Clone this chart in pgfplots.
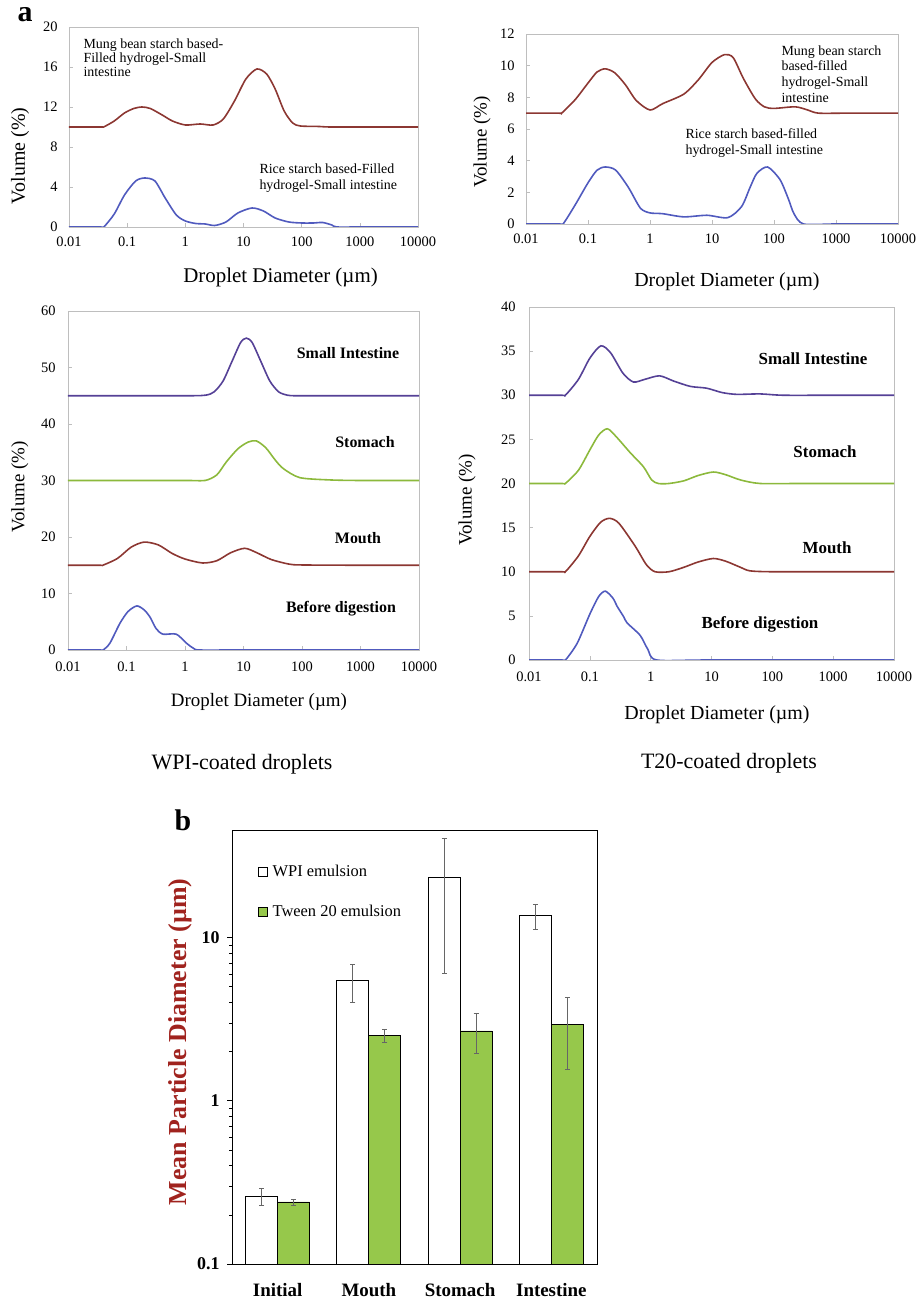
\documentclass[border=0pt]{standalone}
\usepackage{fontspec}
\setmainfont{Liberation Serif}
\usepackage{pgfplots}
\pgfplotsset{compat=1.18}

\definecolor{cbrown}{RGB}{140,55,50}
\definecolor{cblue}{RGB}{80,90,190}
\definecolor{cpurple}{RGB}{85,65,150}
\definecolor{cgreen}{RGB}{140,185,60}
\definecolor{bargreen}{RGB}{150,200,75}
\definecolor{labred}{RGB}{160,35,30}
\definecolor{framegray}{RGB}{190,190,190}
\newcommand\fs[2]{\fontsize{#1}{#2}\selectfont}
\tikzset{catlab/.style={font=\bfseries\fontsize{16}{18}\selectfont},
         catlabb/.style={font=\bfseries\fontsize{17}{19}\selectfont},
         dline/.style={line width=1.6bp, smooth, tension=0.45}}

\begin{document}
\begin{tikzpicture}
\path[use as bounding box] (0bp,0bp) rectangle (916bp,1300bp);

% ---------- Panel a1 ----------
\begin{axis}[scale only axis, anchor=south west, at={(69bp,1073bp)}, width=349bp, height=200bp,
  xmode=log, xmin=0.01, xmax=10000, ymin=0, ymax=20,
  xtick={0.01,0.1,1,10,100,1000,10000}, xticklabels={0.01,0.1,1,10,100,1000,10000},
  ytick={0,4,8,12,16,20},
  xminorticks=false, yminorticks=false, xtick pos=bottom, ytick pos=left,
  axis line style={framegray, line width=0.8bp}, tick style={framegray, line width=0.6bp},
  major tick length=4bp, tick align=inside,
  /pgf/number format/assume math mode=true,
  tick label style={font=\fs{14.5}{16}},
  xticklabel shift=6bp, yticklabel shift=8bp,
  xlabel={Droplet Diameter (µm)}, ylabel={Volume (\%)},
  xlabel style={at={(axis description cs:0.606,-0.25)}, anchor=center, font=\fs{21}{23}},
  ylabel style={at={(axis description cs:-0.140,0.355)}, anchor=center, font=\fs{20}{22}}]
\addplot[dline, cbrown, no markers] coordinates {(0.01,10) (0.035,10) (0.04,10.02) (0.06,10.6) (0.09,11.4) (0.13,11.85) (0.18,12.0) (0.25,11.85) (0.4,11.2) (0.6,10.6) (1.0,10.2) (1.8,10.3) (3.0,10.2) (4.5,10.8) (7,12.6) (11,14.8) (17,15.8) (25,15.3) (35,13.8) (50,11.6) (70,10.4) (95,10.1) (200,10.05) (300,10) (1000,10) (10000,10)};
\addplot[dline, cblue, no markers] coordinates {(0.01,0) (0.035,0) (0.04,0.02) (0.06,1.3) (0.09,3.2) (0.14,4.6) (0.2,4.9) (0.3,4.6) (0.45,2.9) (0.7,1.2) (1.0,0.6) (1.5,0.35) (2.2,0.3) (3.2,0.15) (5,0.5) (8,1.4) (14,1.9) (22,1.6) (35,0.9) (60,0.5) (100,0.4) (160,0.4) (230,0.45) (330,0.2) (400,0) (1000,0) (10000,0)};
\end{axis}

% ---------- Panel a2 ----------
\begin{axis}[scale only axis, anchor=south west, at={(526bp,1076bp)}, width=372bp, height=190bp,
  xmode=log, xmin=0.01, xmax=10000, ymin=0, ymax=12,
  xtick={0.01,0.1,1,10,100,1000,10000}, xticklabels={0.01,0.1,1,10,100,1000,10000},
  ytick={0,2,4,6,8,10,12},
  xminorticks=false, yminorticks=false, xtick pos=bottom, ytick pos=left,
  axis line style={framegray, line width=0.8bp}, tick style={framegray, line width=0.6bp},
  major tick length=4bp, tick align=inside,
  /pgf/number format/assume math mode=true,
  tick label style={font=\fs{14.5}{16}},
  xticklabel shift=6bp, yticklabel shift=8bp,
  xlabel={Droplet Diameter (µm)}, ylabel={Volume (\%)},
  xlabel style={at={(axis description cs:0.540,-0.305)}, anchor=center, font=\fs{20}{22}},
  ylabel style={at={(axis description cs:-0.118,0.432)}, anchor=center, font=\fs{19}{21}}]
\addplot[dline, cbrown, no markers] coordinates {(0.01,7) (0.034,7) (0.038,7.02) (0.062,7.85) (0.1,8.9) (0.14,9.6) (0.19,9.8) (0.27,9.55) (0.4,8.8) (0.6,7.8) (1.0,7.2) (1.6,7.6) (3.5,8.2) (6,9.1) (10,10.2) (16,10.7) (22,10.5) (32,9.2) (50,7.9) (70,7.4) (100,7.3) (220,7.4) (350,7.2) (520,7.0) (1500,7) (10000,7)};
\addplot[dline, cblue, no markers] coordinates {(0.01,0) (0.035,0) (0.04,0.02) (0.062,1.2) (0.1,2.6) (0.14,3.4) (0.19,3.6) (0.28,3.4) (0.45,2.3) (0.7,1.0) (1.0,0.7) (1.6,0.65) (3.5,0.45) (8.3,0.55) (18,0.4) (30,1.1) (41,2.3) (53,3.2) (79,3.6) (125,2.8) (170,1.6) (210,0.65) (300,0) (1000,0) (10000,0)};
\end{axis}

% ---------- Panel a3 (WPI) ----------
\begin{axis}[scale only axis, anchor=south west, at={(68bp,650bp)}, width=351bp, height=339bp,
  xmode=log, xmin=0.01, xmax=10000, ymin=0, ymax=60,
  xtick={0.01,0.1,1,10,100,1000,10000}, xticklabels={0.01,0.1,1,10,100,1000,10000},
  ytick={0,10,20,30,40,50,60},
  xminorticks=false, yminorticks=false, xtick pos=bottom, ytick pos=left,
  axis line style={framegray, line width=0.8bp}, tick style={framegray, line width=0.6bp},
  major tick length=4bp, tick align=inside,
  /pgf/number format/assume math mode=true,
  tick label style={font=\fs{14.5}{16}},
  xticklabel shift=8bp, yticklabel shift=9bp,
  xlabel={Droplet Diameter (µm)}, ylabel={Volume (\%)},
  xlabel style={at={(axis description cs:0.544,-0.153)}, anchor=center, font=\fs{19}{21}},
  ylabel style={at={(axis description cs:-0.137,0.481)}, anchor=center, font=\fs{19}{21}}]
\addplot[dline, cpurple, no markers] coordinates {(0.01,45) (1,45) (2.24,45.1) (3.16,45.7) (4.47,47.6) (6.31,51.0) (8.91,54.4) (11.2,55.2) (14.1,54.4) (19.95,51.0) (28.2,47.6) (39.8,45.7) (56.2,45.1) (79.4,45) (300,45) (10000,45)};
\addplot[dline, cgreen, no markers] coordinates {(0.01,30) (1,30) (2.2,30) (3.5,31) (5.1,33.3) (8,35.6) (12,36.8) (16.6,37) (24,35.8) (35,33.6) (48,32.1) (92,30.5) (300,30.1) (1000,30) (10000,30)};
\addplot[dline, cbrown, no markers] coordinates {(0.01,15) (0.035,15) (0.04,15.03) (0.07,16.2) (0.12,18.2) (0.2,19.1) (0.35,18.6) (0.6,17.1) (1.0,16.1) (2.0,15.4) (3.5,15.8) (6,17.2) (10.5,18) (17,17.2) (30,16) (60,15.2) (100,15.05) (1000,15) (10000,15)};
\addplot[dline, cblue, no markers] coordinates {(0.01,0) (0.035,0) (0.04,0.02) (0.052,1.2) (0.077,4.7) (0.106,6.8) (0.15,7.8) (0.2,7.1) (0.25,5.9) (0.32,3.8) (0.42,2.8) (0.71,2.8) (1.06,1.2) (1.4,0.3) (1.8,0) (10,0) (10000,0)};
\end{axis}

% ---------- Panel a4 (T20) ----------
\begin{axis}[scale only axis, anchor=south west, at={(529bp,640bp)}, width=365bp, height=353bp,
  xmode=log, xmin=0.01, xmax=10000, ymin=0, ymax=40,
  xtick={0.01,0.1,1,10,100,1000,10000}, xticklabels={0.01,0.1,1,10,100,1000,10000},
  ytick={0,5,10,15,20,25,30,35,40},
  xminorticks=false, yminorticks=false, xtick pos=bottom, ytick pos=left,
  axis line style={framegray, line width=0.8bp}, tick style={framegray, line width=0.6bp},
  major tick length=4bp, tick align=inside,
  /pgf/number format/assume math mode=true,
  tick label style={font=\fs{14.5}{16}},
  xticklabel shift=8bp, yticklabel shift=10bp,
  xlabel={Droplet Diameter (µm)}, ylabel={Volume (\%)},
  xlabel style={at={(axis description cs:0.515,-0.156)}, anchor=center, font=\fs{20}{22}},
  ylabel style={at={(axis description cs:-0.170,0.453)}, anchor=center, font=\fs{19}{21}}]
\addplot[dline, cpurple, no markers] coordinates {(0.01,30) (0.035,30) (0.04,30.03) (0.065,31.8) (0.1,34.2) (0.152,35.6) (0.22,34.8) (0.35,32.5) (0.52,31.5) (0.8,31.8) (1.4,32.2) (2.4,31.6) (4.5,31.0) (8.3,30.8) (15,30.3) (26,30.1) (63,30.15) (150,30) (1000,30) (10000,30)};
\addplot[dline, cgreen, no markers] coordinates {(0.01,20) (0.035,20) (0.04,20.03) (0.065,21.5) (0.1,23.8) (0.14,25.5) (0.195,26.2) (0.28,25.2) (0.46,23.5) (0.76,21.9) (1.04,20.4) (1.34,20) (2.0,20) (3.5,20.3) (6,20.9) (10.7,21.3) (17,21.0) (30,20.4) (63,20) (300,20) (10000,20)};
\addplot[dline, cbrown, no markers] coordinates {(0.01,10) (0.035,10) (0.04,10.03) (0.065,11.8) (0.1,14.0) (0.15,15.6) (0.21,16.05) (0.3,15.5) (0.556,12.9) (0.85,10.8) (1.18,10) (2,10) (3.5,10.5) (6,11.1) (10.7,11.5) (17,11.2) (30,10.5) (43,10.1) (100,10) (1000,10) (10000,10)};
\addplot[dline, cblue, no markers] coordinates {(0.01,0) (0.035,0) (0.04,0.02) (0.062,1.9) (0.1,5.2) (0.14,7.2) (0.18,7.8) (0.24,7.0) (0.28,6.1) (0.36,4.9) (0.41,4.2) (0.67,2.8) (0.9,1.2) (1.26,0) (10,0) (10000,0)};
\end{axis}

% ---------- Panel b ----------
\begin{axis}[at={(232bp,36bp)}, anchor=south west, scale only axis, width=365bp, height=433bp,
  ymode=log, ymin=0.1, ymax=45, log origin y=infty,
  xmin=-0.5, xmax=3.5,
  ybar=0pt, bar width=32bp,
  xtick={0,1,2,3}, xticklabels={Initial,Mouth,Stomach,Intestine},
  x tick style={draw=none},
  extra x ticks={-0.5,0.5,1.5,2.5,3.5}, extra x tick labels={},
  extra x tick style={major tick length=6bp, tick align=outside, tick style={draw=black, line width=0.8bp}},
  xtick pos=bottom, ytick pos=left,
  ytick={0.1,1,10}, yticklabels={0.1,1,10},
  yminorticks=true, tick align=outside,
  major tick length=5bp, minor tick length=3bp,
  y tick style={black, line width=0.6bp},
  axis line style={black, line width=1bp},
  /pgf/number format/assume math mode=true,
  yticklabel style={font=\bfseries\fs{18}{20}},
  xticklabel style={font=\bfseries\fs{19}{21}},
  xticklabel shift=11bp, yticklabel shift=4bp,
  ylabel={Mean Particle Diameter (µm)},
  ylabel style={at={(axis description cs:-0.142,0.513)}, anchor=center, font=\bfseries\fs{26}{28}, text=labred},
  legend style={at={(axis description cs:0.062,0.93)}, anchor=north west, draw=none, fill=none,
    font=\fs{16.5}{18}, row sep=23bp, cells={anchor=west},
    /tikz/every odd column/.append style={column sep=3bp}},
  legend image code/.code={\draw[#1, draw=black, line width=0.8bp] (0bp,-4.5bp) rectangle (9bp,4.5bp);},
]
\addplot[fill=white, draw=black, line width=0.8bp,
  error bars/.cd, y dir=both, y explicit,
  error bar style={draw=black!60, line width=0.8bp}, error mark options={draw=black!60, line width=0.8bp, mark size=2.5bp, rotate=90}]
  coordinates {(0,0.26) +- (0,0.03) (1,5.45) +- (0,1.45) (2,23.4) +- (0,17.4) (3,13.6) +- (0,2.35)};
\addplot[fill=bargreen, draw=black, line width=0.8bp,
  error bars/.cd, y dir=both, y explicit,
  error bar style={draw=black!60, line width=0.8bp}, error mark options={draw=black!60, line width=0.8bp, mark size=2.5bp, rotate=90}]
  coordinates {(0,0.24) +- (0,0.01) (1,2.5) +- (0,0.22) (2,2.68) +- (0,0.73) (3,2.92) +- (0,1.37)};
\legend{WPI emulsion, Tween 20 emulsion}
\end{axis}

% ---------- text annotations ----------
\node[font=\bfseries\fs{30}{32}] at (25bp,1285bp) {a};
\node[font=\bfseries\fs{30}{32}] at (183bp,480bp) {b};

\node[anchor=north west, align=left, font=\fs{14}{14.3}] at (80bp,1265bp) {Mung bean starch based-\\Filled hydrogel-Small\\intestine};
\node[anchor=north west, align=left, font=\fs{14}{16}] at (256bp,1140bp) {Rice starch based-Filled\\hydrogel-Small intestine};
\node[anchor=north west, align=left, font=\fs{14}{15.7}] at (778bp,1258bp) {Mung bean starch\\based-filled\\hydrogel-Small\\intestine};
\node[anchor=north west, align=left, font=\fs{14}{16}] at (682bp,1175bp) {Rice starch based-filled\\hydrogel-Small intestine};

\node[catlab] at (348bp,947bp) {Small Intestine};
\node[catlab] at (365bp,858bp) {Stomach};
\node[catlab] at (358bp,762bp) {Mouth};
\node[catlab] at (341bp,691bp) {Before digestion};

\node[catlabb] at (813bp,941bp) {Small Intestine};
\node[catlabb] at (825bp,848bp) {Stomach};
\node[catlabb] at (827bp,752bp) {Mouth};
\node[catlabb] at (760bp,676bp) {Before digestion};

\node[font=\fs{22}{24}] at (242bp,536bp) {WPI-coated droplets};
\node[font=\fs{22}{24}] at (729bp,537bp) {T20-coated droplets};
\end{tikzpicture}
\end{document}
